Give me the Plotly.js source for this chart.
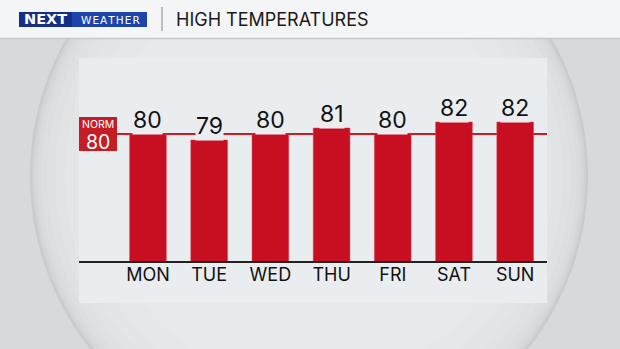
<!DOCTYPE html>
<html>
<head>
<meta charset="utf-8">
<script src="https://cdn.plot.ly/plotly-3.0.1.min.js"></script>
<style>
html,body{margin:0;padding:0;background:#d6dadc;}
#chart{width:620px;height:349px;}
</style>
</head>
<body>
<div id="chart"></div>
<script>
// ---- data ----
const days = ["MON", "TUE", "WED", "THU", "FRI", "SAT", "SUN"];
const highs = [80, 79, 80, 81, 80, 82, 82];
const normalHigh = 80;
const chartTitle = "HIGH TEMPERATURES";
const brandTop = "NEXT";
const brandSub = "WEATHER";
const normLabel = "NORM";

// ---- layout geometry (pixels) ----
const W = 620, H = 349;
const L = 79, R = 547, T = 58, B = 261;
const px = x => (x - L) / (R - L);
const py = y => (B - y) / (B - T);
const panelColor = "#eaedef";
const barColor = "#c80e21";
const font = "Inter, 'Open Sans', sans-serif";

const shapes = [];
// big circular vignette
const cx = 309, cy = 176;
const rings = [
  [279, "#c8cacc"],
  [277, "#cfd1d3"],
  [275, "#d5d7d9"],
  [272, "#d9dbdd"],
  [268, "#dcdee0"],
  [262, "#dfe1e3"],
  [254, "#e1e3e5"],
  [244, "#e3e5e7"],
  [230, "#e5e7e9"],
  [210, "#e7e9eb"]
];
rings.forEach(([r, c]) => shapes.push({
  type: "circle", xref: "paper", yref: "paper", layer: "below",
  x0: px(cx - r), x1: px(cx + r), y0: py(cy + r), y1: py(cy - r),
  fillcolor: c, line: {width: 0}
}));
// header band
shapes.push({type: "rect", xref: "paper", yref: "paper", layer: "below",
  x0: px(0), x1: px(W), y0: py(38), y1: py(-5), fillcolor: "#f4f5f6", line: {width: 0}});
shapes.push({type: "line", xref: "paper", yref: "paper", layer: "below",
  x0: px(0), x1: px(W), y0: py(38.5), y1: py(38.5), line: {color: "#c4c8ca", width: 1.5}});
// logo box
shapes.push({type: "rect", xref: "paper", yref: "paper", layer: "below",
  x0: px(19), x1: px(147), y0: py(27), y1: py(12), fillcolor: "#1d44a8", line: {width: 0}});
shapes.push({type: "rect", xref: "paper", yref: "paper", layer: "below",
  x0: px(19), x1: px(72), y0: py(27), y1: py(12), fillcolor: "#132f86", line: {width: 0}});
// separator
shapes.push({type: "line", xref: "paper", yref: "paper", layer: "below",
  x0: px(162), x1: px(162), y0: py(31), y1: py(7), line: {color: "#a8acae", width: 1.5}});
// chart panel
shapes.push({type: "rect", xref: "paper", yref: "paper", layer: "below",
  x0: 0, x1: 1, y0: py(303), y1: py(58), fillcolor: panelColor, line: {width: 0}});
// normal line
shapes.push({type: "line", xref: "paper", yref: "y", layer: "below",
  x0: px(117), x1: 1, y0: normalHigh, y1: normalHigh, line: {color: "#cc1a28", width: 2}});
// NORM box
shapes.push({type: "rect", xref: "paper", yref: "paper", layer: "below",
  x0: 0, x1: px(117), y0: py(151), y1: py(117), fillcolor: "#c41d25", line: {width: 0}});

const annotations = [];
days.forEach((d, i) => annotations.push({
  x: d, y: highs[i], xref: "x", yref: "y", text: String(highs[i]),
  showarrow: false, yanchor: "bottom", xanchor: "center", yshift: -1,
  font: {family: font, size: 23, color: "#111"}, bgcolor: panelColor, borderpad: 0
}));
const txt = (x, y, text, size, color, fam, xa) => annotations.push({
  xref: "paper", yref: "paper", x: px(x), y: py(y), text: text, showarrow: false,
  xanchor: xa || "center", yanchor: "middle", borderpad: 0,
  font: {family: fam || font, size: size, color: color}
});
txt(98, 124, normLabel, 10.5, "#fff");
txt(98, 142, String(normalHigh), 19.5, "#fff");
txt(23, 19.5, "<b>" + brandTop + "</b>", 14.5, "#fff", "'DejaVu Sans', sans-serif", "left");
txt(110, 20, brandSub.split("").join("\u200a"), 10.5, "#fff", "'DejaVu Sans', sans-serif");
txt(175, 19.5, chartTitle, 18, "#1a1a1a", font, "left");

const trace = {
  type: "bar", x: days, y: highs, width: 0.6,
  marker: {color: barColor, line: {color: "#d94450", width: 0.5}},
  hoverinfo: "skip"
};

const layout = {
  width: W, height: H,
  margin: {l: L, r: W - R, t: T, b: H - B, pad: 0},
  paper_bgcolor: "#d6dadc", plot_bgcolor: "rgba(0,0,0,0)",
  showlegend: false,
  xaxis: {type: "category", range: [-1.127, 6.52], showline: true, linecolor: "#222",
    linewidth: 2, ticks: "", showgrid: false, zeroline: false, fixedrange: true,
    ticklabelstandoff: -4,
    tickfont: {family: font, size: 18, color: "#111"}},
  yaxis: {range: [58.83, 92.67], visible: false, fixedrange: true},
  shapes: shapes, annotations: annotations
};

Plotly.newPlot("chart", [trace], layout, {displayModeBar: false, staticPlot: true});
</script>
</body>
</html>
